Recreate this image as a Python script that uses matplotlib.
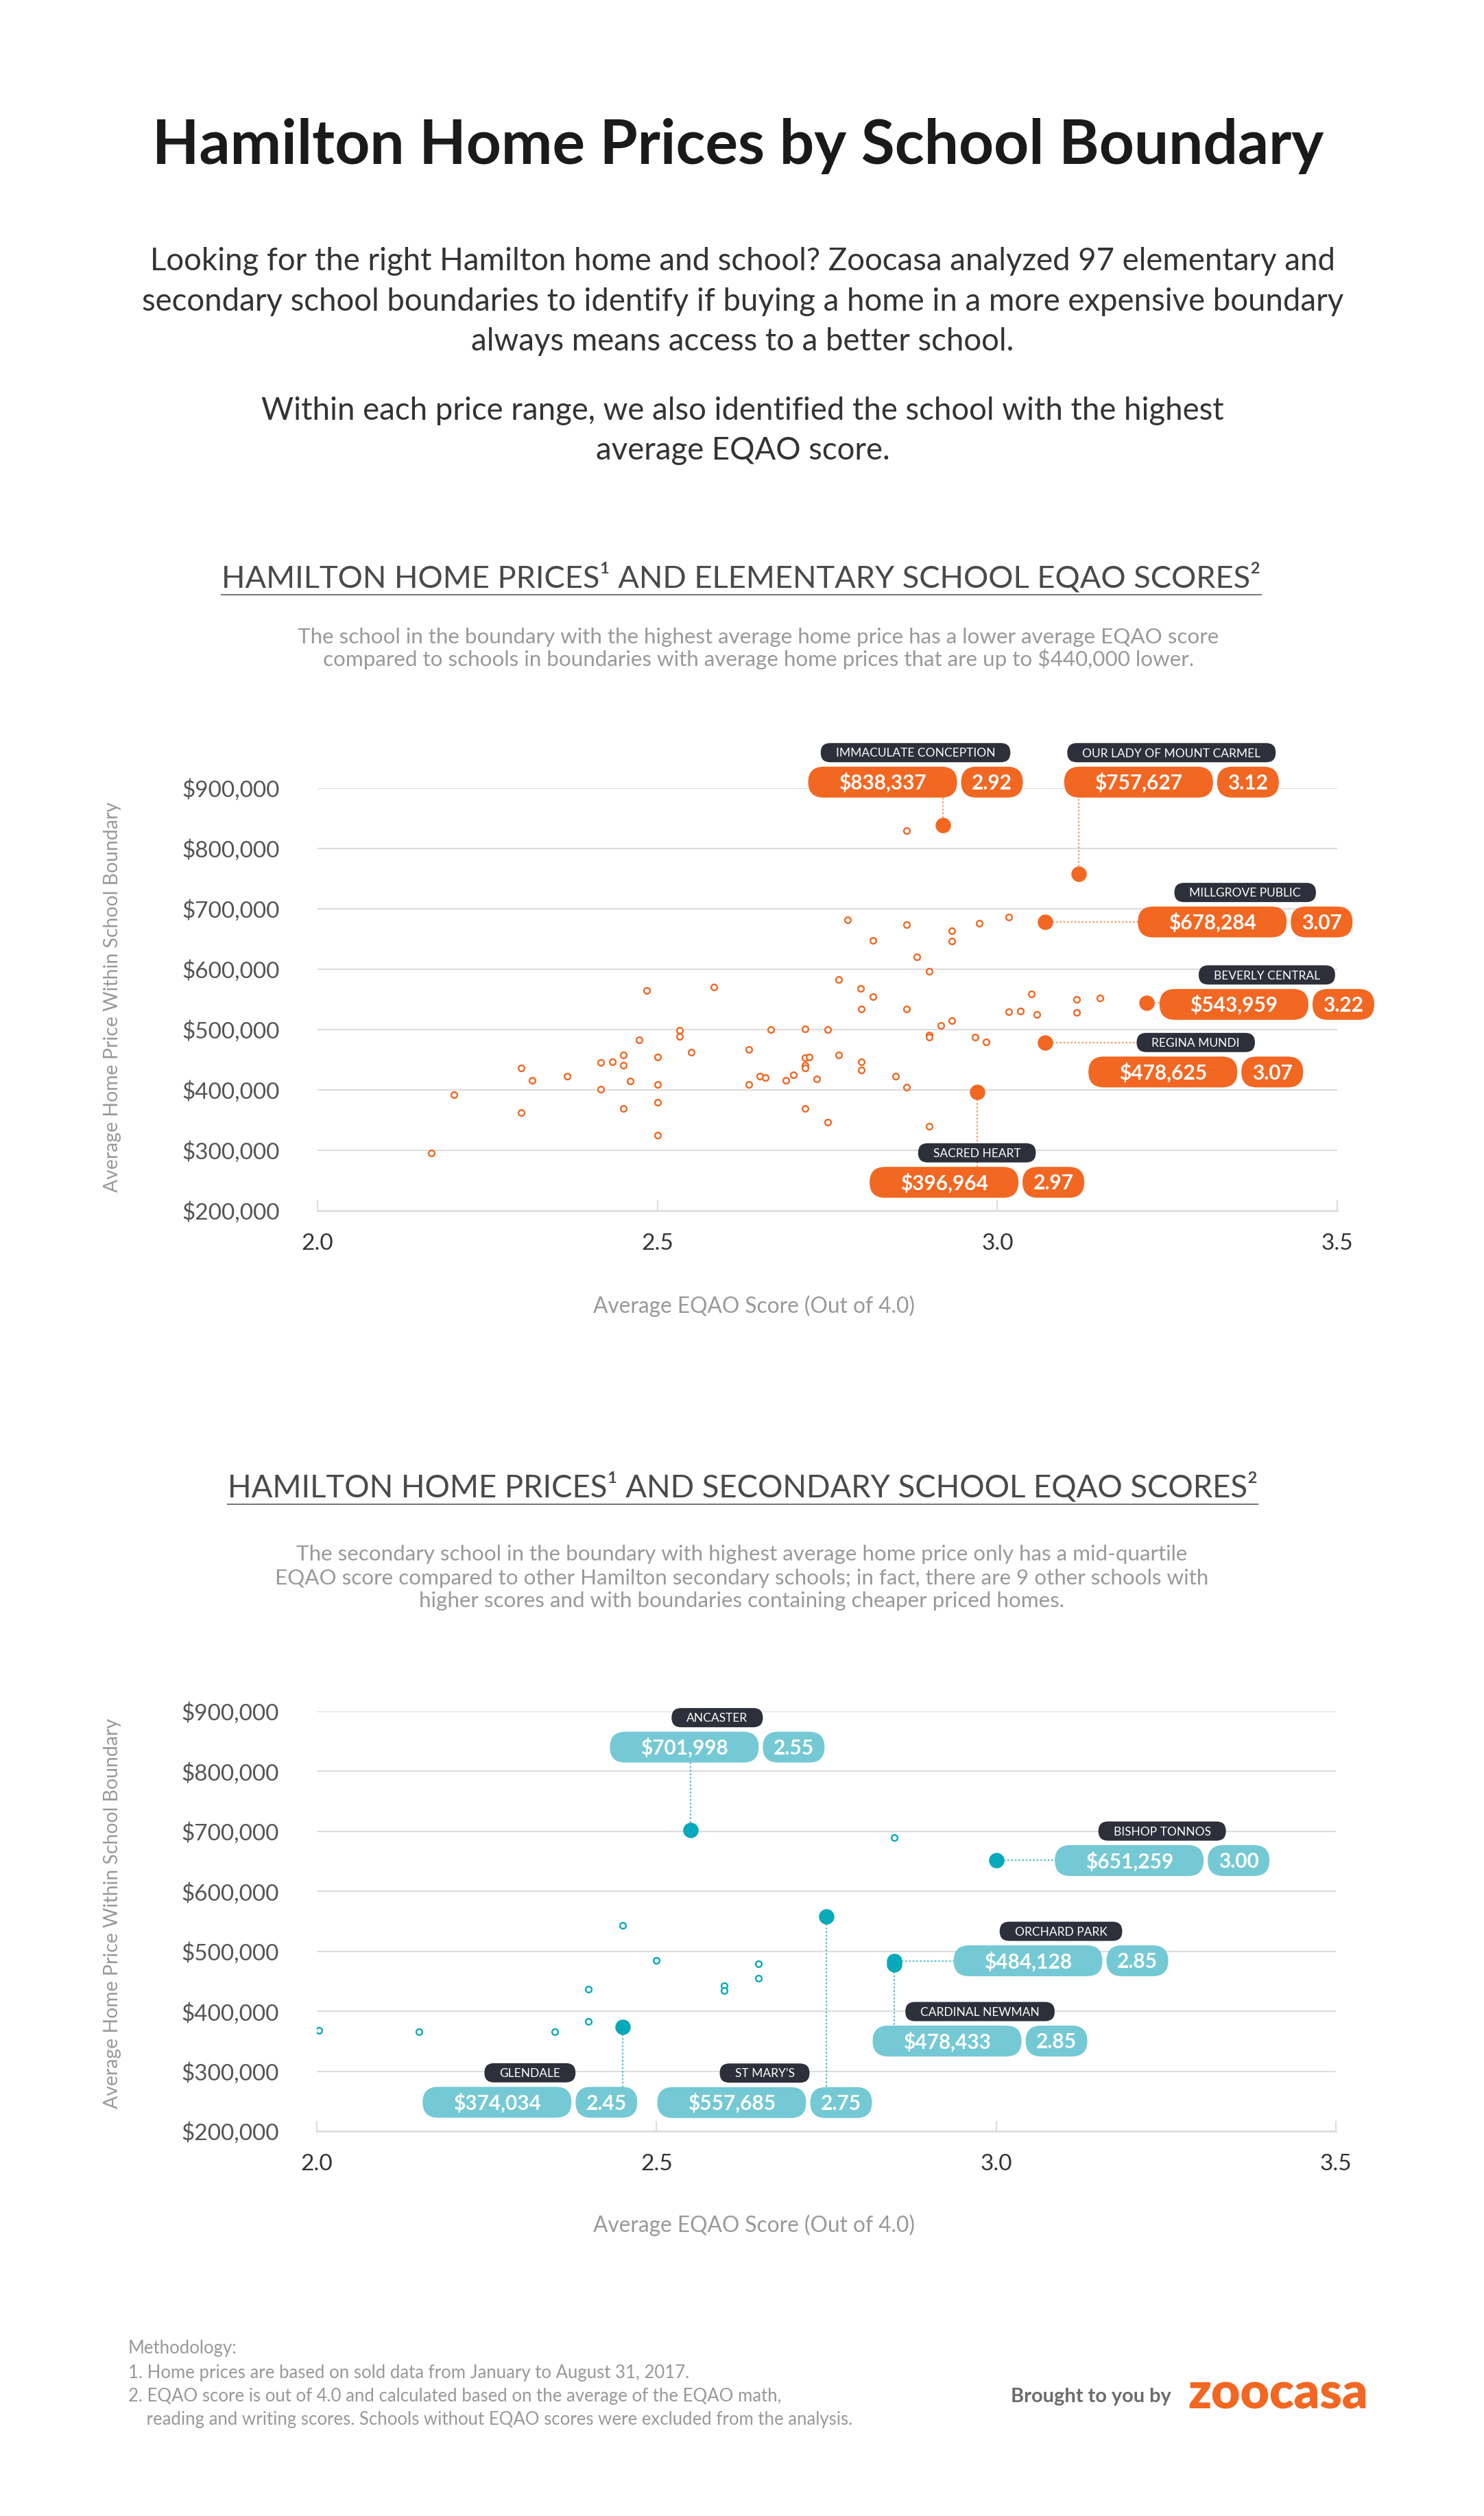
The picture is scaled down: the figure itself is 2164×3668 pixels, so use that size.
import matplotlib
matplotlib.use('Agg')
import matplotlib.pyplot as plt
from matplotlib.patches import FancyBboxPatch
from matplotlib.ticker import FuncFormatter

W, H = 2164, 3668
DPI = 100

ORANGE = '#F26722'
ORANGE_LT = '#F6A06A'
TEAL = '#08A9BB'
TEAL_PILL = '#74C9D4'
TEAL_LT = '#5EC2CD'
DARK = '#2D2F3A'
GRID = '#DEDEDE'

# elementary schools - small points
elem_score = [2.167, 2.201, 2.300, 2.300, 2.316, 2.367, 2.417, 2.417, 2.434, 2.450,
              2.450, 2.450, 2.460, 2.473, 2.484, 2.500, 2.500, 2.500, 2.500, 2.533,
              2.533, 2.550, 2.583, 2.634, 2.634, 2.651, 2.659, 2.667, 2.689, 2.700,
              2.717, 2.717, 2.723, 2.717, 2.717, 2.734, 2.717, 2.750, 2.750, 2.767,
              2.767, 2.780, 2.799, 2.800, 2.800, 2.800, 2.817, 2.817, 2.850, 2.867,
              2.867, 2.867, 2.867, 2.882, 2.900, 2.900, 2.900, 2.900, 2.917, 2.933,
              2.933, 2.933, 2.967, 2.973, 2.984, 3.017, 3.017, 3.034, 3.050, 3.058,
              3.117, 3.117, 3.151]
elem_price = [296000, 392000, 436000, 362000, 416000, 423000, 446000, 401000, 447000, 458000,
              441000, 369000, 415000, 483000, 565000, 454000, 409000, 379000, 325000, 499000,
              489000, 463000, 571000, 467000, 409000, 423000, 420000, 500000, 416000, 425000,
              501000, 453000, 455000, 441000, 436000, 418000, 369000, 500000, 347000, 583000,
              458000, 682000, 568000, 534000, 447000, 433000, 648000, 555000, 423000, 830000,
              674000, 534000, 404000, 621000, 597000, 491000, 488000, 340000, 507000, 664000,
              647000, 515000, 487000, 676000, 480000, 686000, 530000, 531000, 559000, 525000,
              550000, 528000, 552000]

# elementary schools - highlighted
elem_hl_name = ['IMMACULATE CONCEPTION', 'OUR LADY OF MOUNT CARMEL', 'MILLGROVE PUBLIC',
                'BEVERLY CENTRAL', 'REGINA MUNDI', 'SACRED HEART']
elem_hl_score = [2.92, 3.12, 3.07, 3.22, 3.07, 2.97]
elem_hl_price = [838337, 757627, 678284, 543959, 478625, 396964]

# secondary schools - small points
sec_score = [2.003, 2.150, 2.350, 2.400, 2.400, 2.450, 2.500, 2.600, 2.600, 2.650, 2.650, 2.850]
sec_price = [368000, 366000, 366000, 437000, 383000, 543000, 485000, 443000, 434000, 479000,
             455000, 689000]

# secondary schools - highlighted
sec_hl_name = ['ANCASTER', 'BISHOP TONNOS', 'ST MARY\u2019S', 'ORCHARD PARK',
               'CARDINAL NEWMAN', 'GLENDALE']
sec_hl_score = [2.55, 3.00, 2.75, 2.85, 2.85, 2.45]
sec_hl_price = [701998, 651259, 557685, 484128, 478433, 374034]

x_ticks = [2.0, 2.5, 3.0, 3.5]
y_ticks = [200000, 300000, 400000, 500000, 600000, 700000, 800000, 900000]

# label layout: offset (px) of the price pill from the dot, leader direction
elem_layout = [(-88, -63, 'v'), (87, -134, 'v'), (244, 0, 'h'),
               (127, 2, 'h'), (172, 43, 'h'), (-48, 132, 'v')]
sec_layout = [(-9, -121, 'v'), (194, 0, 'h'), (-138, 271, 'v'),
              (195, 0, 'h'), (77, 112, 'v'), (-183, 110, 'v')]

plt.rcParams['font.family'] = ['Lato', 'DejaVu Sans']

fig = plt.figure(figsize=(W / DPI, H / DPI), dpi=DPI)
fig.patch.set_facecolor('white')


def px_axes(left, top, right, bottom):
    return fig.add_axes([left / W, 1 - bottom / H, (right - left) / W, (bottom - top) / H])


ax1 = px_axes(463, 1149, 1950, 1765)
ax2 = px_axes(462, 2495, 1948, 3107)

# overlay in image pixels for all the text and pills
ov = fig.add_axes([0, 0, 1, 1])
ov.set_xlim(0, W)
ov.set_ylim(H, 0)
ov.axis('off')

R = fig.canvas.get_renderer()


def fit(t, width, vertical=False):
    bb = t.get_window_extent(R)
    w = bb.height if vertical else bb.width
    t.set_fontsize(t.get_fontsize() * width / w)
    return t.get_fontsize()


def txt(x, y, s, size, color='#333333', weight='normal', ha='center', rot=0):
    return ov.text(x, y, s, fontsize=size, color=color, fontweight=weight,
                   ha=ha, va='center', rotation=rot, rotation_mode='anchor')


def style(ax):
    ax.set_xlim(2.0, 3.5)
    ax.set_ylim(200000, 900000)
    ax.set_xticks(x_ticks)
    ax.xaxis.set_major_formatter(FuncFormatter(lambda v, p: f'{v:.1f}'))
    ax.set_yticks(y_ticks)
    ax.yaxis.set_major_formatter(FuncFormatter(lambda v, p: f'${v:,.0f}'))
    for s in ['top', 'right', 'left']:
        ax.spines[s].set_visible(False)
    ax.spines['bottom'].set_color(GRID)
    ax.spines['bottom'].set_linewidth(2)
    ax.grid(axis='y', color=GRID, lw=1.6)
    ax.set_axisbelow(True)
    ax.tick_params(axis='y', length=0, pad=40, labelsize=24, labelcolor='#555555')
    ax.tick_params(axis='x', direction='in', length=11, width=1.6, color=GRID,
                   pad=24, labelsize=24, labelcolor='#333333')
    ax.set_facecolor('none')


def to_px(ax, x, y):
    dx, dy = ax.transData.transform((x, y))
    return dx, H - dy


def pill(cx, cy, w, h, color, text, size, weight='bold'):
    ov.add_patch(FancyBboxPatch((cx - w / 2, cy - h / 2), w, h,
                                boxstyle=f'round,pad=0,rounding_size={h / 2}',
                                fc=color, ec='none', zorder=3))
    t = ov.text(cx, cy, text, fontsize=size, color='white', fontweight=weight,
                ha='center', va='baseline', zorder=4)
    t.set_y(cy + 0.358 * size * DPI / 72)
    return t


def highlight(ax, xs, ys, names, layout, pill_color, dot_color, line_color):
    ax.scatter(xs, ys, s=230, color=dot_color, zorder=4, clip_on=False)
    inv = ax.transData.inverted()
    for x, y, name, (dx, dy, kind) in zip(xs, ys, names, layout):
        px, py = to_px(ax, x, y)
        cx, cy = px + dx, py + dy
        ex, ey = (px, cy) if kind == 'v' else (cx, py)
        dxe, dye = inv.transform((ex, H - ey))
        ax.plot([x, dxe], [y, dye], ls=(0, (1.2, 1.2)), lw=1.6, color=line_color,
                zorder=3, clip_on=False)
        pill(cx, cy, 217, 45, pill_color, f'${y:,.0f}', 21.5)
        pill(cx + 108.5 + 6 + 45, cy, 90, 45, pill_color, f'{x:.2f}', 21.5)
        # name pill centred over the price + score pills
        nx = cx - 108.5 + 156.5
        t = ov.text(nx, cy - 43 + 0.358 * 12.5 * DPI / 72, name, fontsize=12.5, color='white',
                    ha='center', va='baseline', zorder=4)
        wn = t.get_window_extent(R).width + 44
        ov.add_patch(FancyBboxPatch((nx - wn / 2, cy - 43 - 14), wn, 28,
                                    boxstyle='round,pad=0,rounding_size=14',
                                    fc=DARK, ec='none', zorder=3))


style(ax1)
style(ax2)

ax1.scatter(elem_score, elem_price, s=40, facecolors='white', edgecolors=ORANGE,
            linewidths=1.7, zorder=2)
highlight(ax1, elem_hl_score, elem_hl_price, elem_hl_name, elem_layout,
          ORANGE, ORANGE, ORANGE_LT)

ax2.scatter(sec_score, sec_price, s=40, facecolors='white', edgecolors=TEAL,
            linewidths=1.7, zorder=2)
highlight(ax2, sec_hl_score, sec_hl_price, sec_hl_name, sec_layout,
          TEAL_PILL, TEAL, TEAL_LT)

# title and intro
t = txt(1076, 213, 'Hamilton Home Prices by School Boundary', 55, '#1A1A1A', 'bold')
fit(t, 1707)

intro = ['Looking for the right Hamilton home and school? Zoocasa analyzed 97 elementary and',
         'secondary school boundaries to identify if buying a home in a more expensive boundary',
         'always means access to a better school.',
         'Within each price range, we also identified the school with the highest',
         'average EQAO score.']
intro_y = [381, 440, 498, 599, 657]
ts = [txt(1083, y, s, 28, '#333333', 'normal') for s, y in zip(intro, intro_y)]
size = fit(ts[1], 1752)
for t in ts:
    t.set_fontsize(size)

# chart headings


def heading(y, s, width, cx):
    t = txt(cx, y, s, 30, '#4A4A4A', 'normal')
    fit(t, width)
    bb = t.get_window_extent(R)
    ov.plot([bb.x0, bb.x1], [y + 25, y + 25], color='#7A7A7A', lw=1.5)


heading(842, 'HAMILTON HOME PRICES\u00b9 AND ELEMENTARY SCHOOL EQAO SCORES\u00b2', 1512, 1081)
heading(2168, 'HAMILTON HOME PRICES\u00b9 AND SECONDARY SCHOOL EQAO SCORES\u00b2', 1502, 1083)

sub1 = ['The school in the boundary with the highest average home price has a lower average EQAO score',
        'compared to schools in boundaries with average home prices that are up to $440,000 lower.']
ts = [txt(1106, y, s, 18, '#999999', 'normal') for s, y in zip(sub1, [929, 961])]
size = fit(ts[0], 1343)
ts[1].set_fontsize(size)

sub2 = ['The secondary school in the boundary with highest average home price only has a mid-quartile',
        'EQAO score compared to other Hamilton secondary schools; in fact, there are 9 other schools with',
        'higher scores and with boundaries containing cheaper priced homes.']
ts = [txt(1082, y, s, 18, '#999999', 'normal') for s, y in zip(sub2, [2266, 2301, 2334])]
size = fit(ts[1], 1357)
for t in ts:
    t.set_fontsize(size)

# axis titles
for yc, xl_y in [(1453, 1904), (2789, 3244)]:
    t = txt(164, yc, 'Average Home Price Within School Boundary', 18, '#999999', 'normal', rot=90)
    fit(t, 566, vertical=True)
    t = txt(1099, xl_y, 'Average EQAO Score (Out of 4.0)', 18, '#999999', 'normal')
    fit(t, 468)

# footer
notes = ['Methodology:',
         '1. Home prices are based on sold data from January to August 31, 2017.',
         '2. EQAO score is out of 4.0 and calculated based on the average of the EQAO math,',
         '    reading and writing scores. Schools without EQAO scores were excluded from the analysis.']
ts = [txt(187, y, s, 14, '#999999', 'normal', ha='left') for s, y in zip(notes, [3424, 3459, 3494, 3527])]
size = fit(ts[2], 954)
for t in ts:
    t.set_fontsize(size)

t = txt(1708, 3494, 'Brought to you by', 18, '#6B6B6B', 'bold', ha='right')
fit(t, 234)
t = txt(1732, 3490, 'zoocasa', 50, ORANGE, 'heavy', ha='left')
fit(t, 263)

fig.savefig('out.png', dpi=DPI, facecolor='white')
